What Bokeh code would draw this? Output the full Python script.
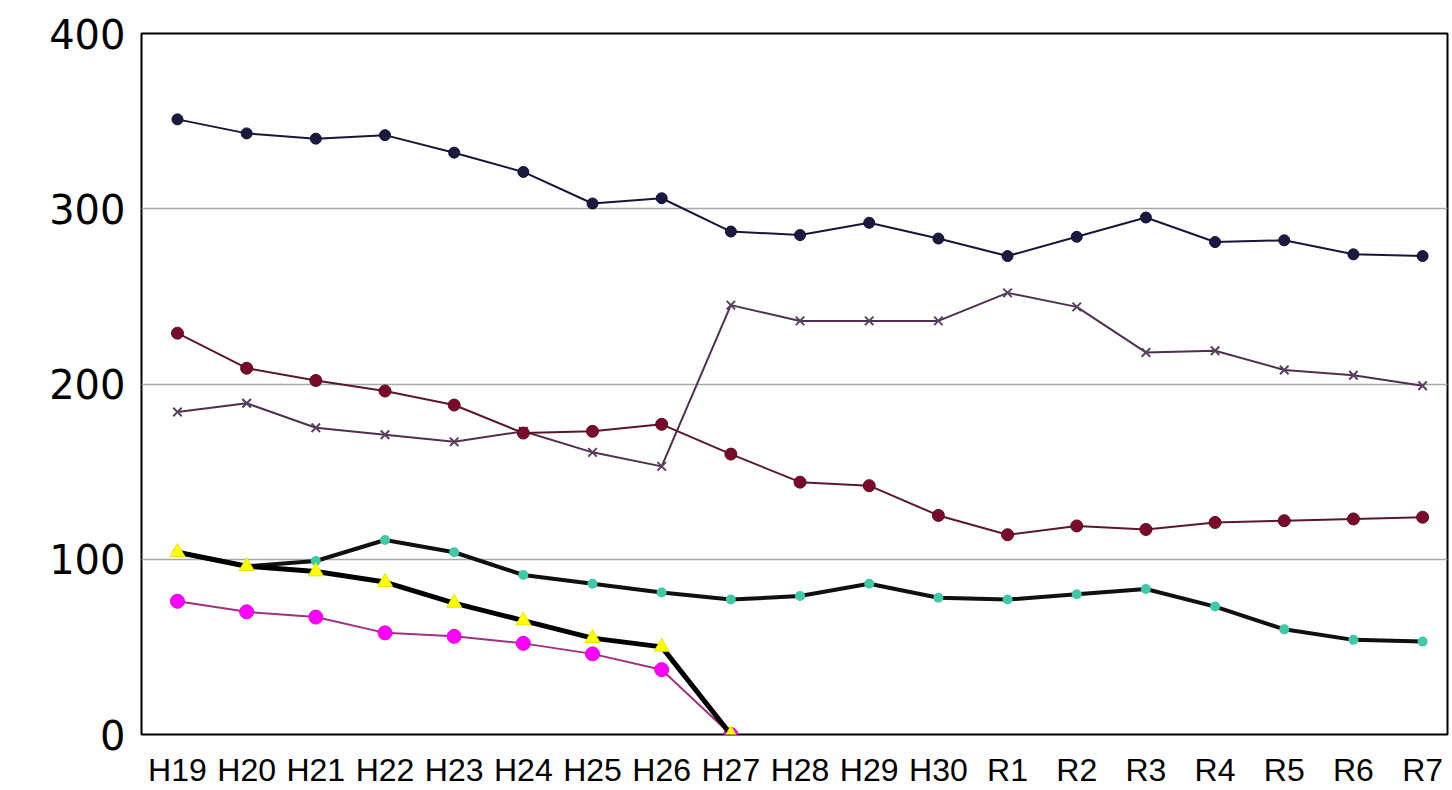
from bokeh.plotting import figure
from bokeh.models import Range1d, FixedTicker
from bokeh.embed import file_html
from bokeh.resources import INLINE

categories = ["H19", "H20", "H21", "H22", "H23", "H24", "H25", "H26", "H27", "H28",
              "H29", "H30", "R1", "R2", "R3", "R4", "R5", "R6", "R7"]
series_navy = [351, 343, 340, 342, 332, 321, 303, 306, 287, 285, 292, 283, 273, 284, 295, 281, 282, 274, 273]
series_maroon = [229, 209, 202, 196, 188, 172, 173, 177, 160, 144, 142, 125, 114, 119, 117, 121, 122, 123, 124]
series_mauve = [184, 189, 175, 171, 167, 173, 161, 153, 245, 236, 236, 236, 252, 244, 218, 219, 208, 205, 199]
series_teal = [104, 96, 99, 111, 104, 91, 86, 81, 77, 79, 86, 78, 77, 80, 83, 73, 60, 54, 53]
series_yellow = [104, 96, 93, 87, 75, 65, 55, 50, 0]
series_magenta = [76, 70, 67, 58, 56, 52, 46, 37, 0]
y_ticks = [0, 100, 200, 300, 400]

xs = list(range(len(categories)))

p = figure(width=1452, height=790, output_backend="svg", toolbar_location=None,
           x_range=Range1d(-0.52, 18.36), y_range=Range1d(0, 400),
           min_border_left=141, min_border_top=33, min_border_bottom=55, min_border_right=5)
p.background_fill_color = "white"
p.border_fill_color = "white"
p.outline_line_color = "black"
p.outline_line_width = 2

p.xaxis.ticker = FixedTicker(ticks=xs)
p.xaxis.major_label_overrides = {i: c for i, c in enumerate(categories)}
p.xaxis.major_tick_out = 0
p.xaxis.major_tick_in = 0
p.xaxis.minor_tick_out = 0
p.xaxis.minor_tick_in = 0
p.xaxis.axis_line_color = None
p.xaxis.major_label_standoff = 17
p.xaxis.major_label_text_font = "Liberation Sans"
p.xaxis.major_label_text_font_size = "32px"
p.xaxis.major_label_text_color = "black"
p.xgrid.visible = False

p.yaxis.ticker = FixedTicker(ticks=y_ticks)
p.yaxis.major_tick_out = 0
p.yaxis.major_tick_in = 0
p.yaxis.minor_tick_out = 0
p.yaxis.minor_tick_in = 0
p.yaxis.axis_line_color = None
p.yaxis.major_label_standoff = 16
p.yaxis.major_label_text_font = "DejaVu Sans"
p.yaxis.major_label_text_font_size = "40px"
p.yaxis.major_label_text_color = "black"

p.ygrid.ticker = FixedTicker(ticks=[100, 200, 300])
p.ygrid.grid_line_color = "#a8a8a8"
p.ygrid.grid_line_width = 1.5

# magenta series
xm = xs[:len(series_magenta)]
p.line(xm, series_magenta, line_color="#a03080", line_width=2)
p.scatter(xm, series_magenta, marker="circle", size=14, fill_color="#ff00ff", line_color="#e000e0")

# teal / black thick series
p.line(xs, series_teal, line_color="#101010", line_width=4)
p.scatter(xs, series_teal, marker="circle", size=10, fill_color="#40c8a8", line_color=None)

# yellow triangles / black thick series
xy = xs[:len(series_yellow)]
p.line(xy, series_yellow, line_color="black", line_width=5)
p.scatter(xy, series_yellow, marker="triangle", size=15, fill_color="#ffff00", line_color="#e8e800")

# mauve series with x markers
p.line(xs, series_mauve, line_color="#4e3050", line_width=2)
p.scatter(xs, series_mauve, marker="x", size=12, line_color="#5a4060", line_width=2)

# maroon series
p.line(xs, series_maroon, line_color="#5a1828", line_width=2)
p.scatter(xs, series_maroon, marker="circle", size=12, fill_color="#7a0a2a", line_color="#5a0a20")

# navy series
p.line(xs, series_navy, line_color="#16163a", line_width=2)
p.scatter(xs, series_navy, marker="circle", size=11, fill_color="#1a1a40", line_color="#101030")

open("out.html", "w").write(file_html(p, INLINE))
